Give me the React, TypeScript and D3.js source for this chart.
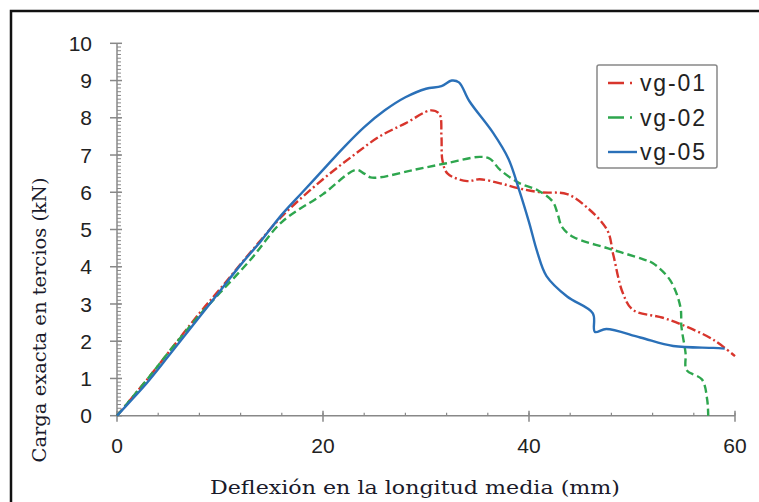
import React, { useEffect, useRef } from "react";
import * as d3 from "d3";

// Deflexión (mm), carga (kN)
const vg01 = [
  [0, 0], [3, 1.0], [5, 1.7], [8, 2.75], [10, 3.4], [13, 4.4], [16, 5.35], [20, 6.35],
  [23, 7.0], [25.5, 7.5], [28, 7.85], [30.5, 8.2], [31.3, 8.1], [31.5, 7.5], [31.6, 6.85],
  [32.1, 6.5], [34, 6.3], [35.2, 6.35], [37.2, 6.24], [39.1, 6.1], [41.1, 6.0], [43.7, 5.95],
  [45.6, 5.6], [47.6, 4.98], [48.2, 4.3], [49.1, 3.3], [50.1, 2.84], [53, 2.63], [55.3, 2.39],
  [57.9, 2.04], [60, 1.6],
];
const vg02 = [
  [0, 0], [3, 1.0], [5, 1.7], [8, 2.7], [10, 3.3], [13, 4.2], [16, 5.2], [20, 5.95],
  [23.2, 6.6], [24, 6.5], [24.6, 6.4], [25.5, 6.4], [28.8, 6.6], [32, 6.78], [35.2, 6.95],
  [36.2, 6.9], [37.2, 6.6], [39.1, 6.24], [40.8, 6.06], [42.3, 5.75], [42.8, 5.4], [43.2, 5.07],
  [44.3, 4.8], [47.6, 4.5], [51.1, 4.2], [52, 4.1], [53.7, 3.64], [54.7, 2.92], [54.8, 2.39],
  [55.2, 1.68], [55.3, 1.23], [56.8, 0.97], [57.3, 0.43], [57.4, 0],
];
const vg05 = [
  [0, 0], [1.5, 0.45], [2.9, 0.88], [5, 1.6], [8, 2.65], [10, 3.35], [12, 4.05], [14, 4.7],
  [16, 5.4], [18, 6.0], [20, 6.6], [22, 7.2], [24, 7.75], [26, 8.2], [28, 8.55], [30, 8.78],
  [31.5, 8.85], [32.5, 9.0], [33.2, 8.95], [34.2, 8.45], [36.5, 7.6], [38, 6.9], [39, 6.1],
  [40, 5.2], [40.8, 4.4], [41.7, 3.75], [43.7, 3.2], [46.2, 2.75], [46.4, 2.25], [47.5, 2.33],
  [50.8, 2.1], [54, 1.87], [57.9, 1.82], [59, 1.8],
];

const seriesNames = ["vg-01", "vg-02", "vg-05"];
const xTicks = [0, 20, 40, 60];
const yTicks = [0, 1, 2, 3, 4, 5, 6, 7, 8, 9, 10];

export default function App() {
  const ref = useRef<SVGSVGElement>(null);

  useEffect(() => {
    const svg = d3.select(ref.current);
    svg.selectAll("*").remove();

    const x = d3.scaleLinear().domain([0, 60]).range([117, 735]);
    const y = d3.scaleLinear().domain([0, 10]).range([415.7, 43.3]);

    // marco exterior
    svg
      .append("rect")
      .attr("x", 11)
      .attr("y", 11)
      .attr("width", 800)
      .attr("height", 600)
      .attr("fill", "none")
      .attr("stroke", "#111")
      .attr("stroke-width", 2.5);

    const axisColor = "#888";

    // eje y con marcas menores
    svg
      .append("line")
      .attr("x1", x(0)).attr("x2", x(0))
      .attr("y1", y(10)).attr("y2", y(0))
      .attr("stroke", axisColor).attr("stroke-width", 1.5);
    svg
      .append("g")
      .selectAll("line")
      .data(d3.range(0, 100).map((i) => i / 10))
      .enter()
      .append("line")
      .attr("x1", x(0)).attr("x2", x(0) + 4)
      .attr("y1", (d) => y(d)).attr("y2", (d) => y(d))
      .attr("stroke", axisColor).attr("stroke-width", 1);
    svg
      .append("g")
      .selectAll("line")
      .data(yTicks)
      .enter()
      .append("line")
      .attr("x1", x(0) - 7).attr("x2", x(0) + 5)
      .attr("y1", (d) => y(d)).attr("y2", (d) => y(d))
      .attr("stroke", axisColor).attr("stroke-width", 1.5);
    svg
      .append("g")
      .selectAll("text")
      .data(yTicks)
      .enter()
      .append("text")
      .attr("x", 92)
      .attr("y", (d) => y(d))
      .attr("dy", "0.36em")
      .attr("text-anchor", "end")
      .attr("font-family", "Liberation Sans, Arial, sans-serif")
      .attr("font-size", 21)
      .attr("fill", "#222")
      .text((d) => d);

    // eje x
    svg
      .append("line")
      .attr("x1", x(0)).attr("x2", x(60))
      .attr("y1", y(0)).attr("y2", y(0))
      .attr("stroke", axisColor).attr("stroke-width", 1.5);
    svg
      .append("g")
      .selectAll("line")
      .data(d3.range(0, 61, 4))
      .enter()
      .append("line")
      .attr("x1", (d) => x(d)).attr("x2", (d) => x(d))
      .attr("y1", y(0) - 3).attr("y2", y(0))
      .attr("stroke", axisColor).attr("stroke-width", 1.2);
    svg
      .append("g")
      .selectAll("line")
      .data(xTicks)
      .enter()
      .append("line")
      .attr("x1", (d) => x(d)).attr("x2", (d) => x(d))
      .attr("y1", y(0) - 5).attr("y2", y(0) + 6)
      .attr("stroke", axisColor).attr("stroke-width", 1.5);
    svg
      .append("g")
      .selectAll("text")
      .data(xTicks)
      .enter()
      .append("text")
      .attr("x", (d) => x(d))
      .attr("y", 453)
      .attr("text-anchor", "middle")
      .attr("font-family", "Liberation Sans, Arial, sans-serif")
      .attr("font-size", 21)
      .attr("fill", "#222")
      .text((d) => d);

    // títulos de ejes
    svg
      .append("text")
      .attr("x", 415)
      .attr("y", 494)
      .attr("text-anchor", "middle")
      .attr("font-family", "DejaVu Serif, serif")
      .attr("font-size", 18)
      .attr("textLength", 410)
      .attr("lengthAdjust", "spacingAndGlyphs")
      .attr("fill", "#1a1a2a")
      .text("Deflexión en la longitud media (mm)");
    svg
      .append("text")
      .attr("transform", "translate(46, 320) rotate(-90)")
      .attr("text-anchor", "middle")
      .attr("font-family", "DejaVu Serif, serif")
      .attr("font-size", 18)
      .attr("textLength", 285)
      .attr("lengthAdjust", "spacingAndGlyphs")
      .attr("fill", "#1a1a2a")
      .text("Carga exacta en tercios (kN)");

    // curvas
    const line = d3
      .line<number[]>()
      .x((d) => x(d[0]))
      .y((d) => y(d[1]))
      .curve(d3.curveCatmullRom.alpha(0.5));

    const styles = [
      { data: vg01, color: "#d8352c", dash: "9,3,2,3" },
      { data: vg02, color: "#2ea64e", dash: "8,4" },
      { data: vg05, color: "#2a70b8", dash: null },
    ];

    styles.forEach((s) => {
      svg
        .append("path")
        .attr("d", line(s.data))
        .attr("fill", "none")
        .attr("stroke", s.color)
        .attr("stroke-width", 2.4)
        .attr("stroke-linejoin", "round")
        .attr("stroke-dasharray", s.dash);
    });

    // leyenda
    const legend = svg.append("g");
    legend
      .append("rect")
      .attr("x", 597)
      .attr("y", 65)
      .attr("width", 120)
      .attr("height", 103)
      .attr("rx", 2)
      .attr("fill", "#fff")
      .attr("stroke", "#888")
      .attr("stroke-width", 1.5);
    seriesNames.forEach((name, i) => {
      const ly = 83 + i * 34.5;
      legend
        .append("line")
        .attr("x1", 608).attr("x2", 637)
        .attr("y1", ly).attr("y2", ly)
        .attr("stroke", styles[i].color)
        .attr("stroke-width", 2.4)
        .attr("stroke-dasharray", i === 2 ? null : "16,6,2,6");
      legend
        .append("text")
        .attr("x", 640)
        .attr("y", ly)
        .attr("dy", "0.36em")
        .attr("font-family", "Liberation Sans, Arial, sans-serif")
        .attr("font-size", 23)
        .attr("textLength", 65)
        .attr("fill", "#222")
        .text(name);
    });
  }, []);

  return (
    <div style={{ position: "absolute", left: 0, top: 0 }}>
      <svg ref={ref} width={759} height={502} style={{ display: "block", background: "#fff" }}></svg>
    </div>
  );
}
